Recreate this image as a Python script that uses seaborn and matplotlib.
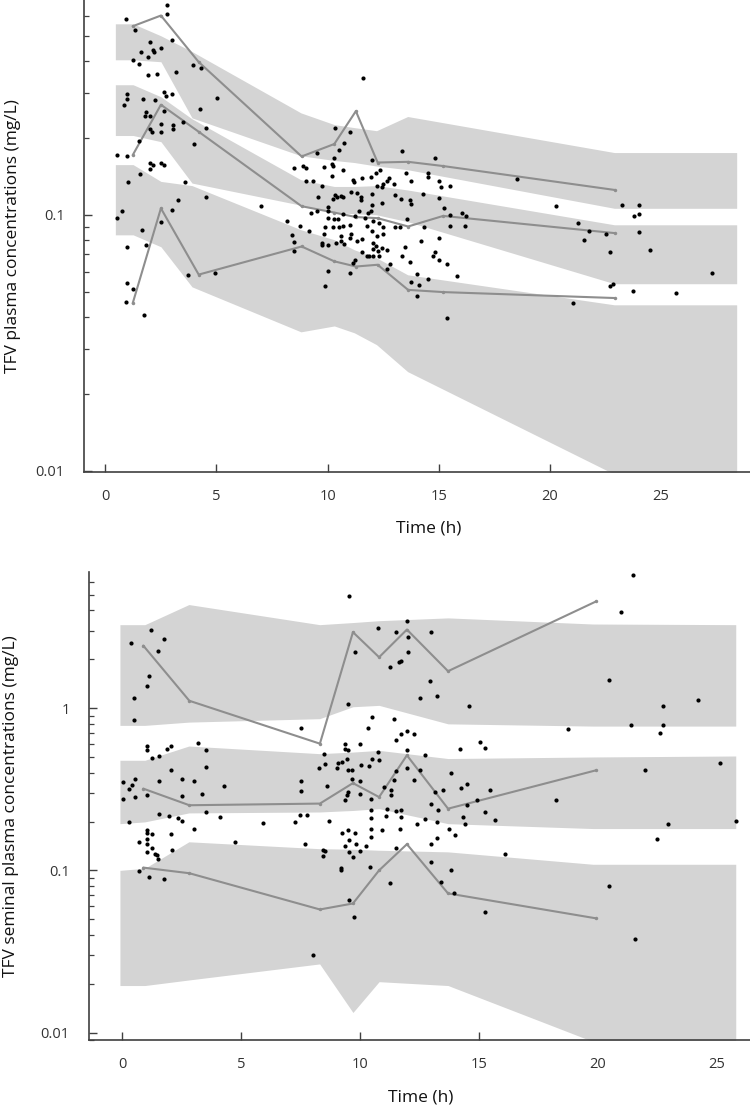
import numpy as np
import pandas as pd
import matplotlib
matplotlib.use("Agg")
import matplotlib.pyplot as plt
import seaborn as sns
from matplotlib.ticker import LogLocator, FuncFormatter, NullFormatter

# ---------------- TFV plasma (top panel) ----------------
plasma_time = [
    2.76, 2.76, 0.93, 1.34, 2.01, 3.01, 2.49, 2.16, 2.19, 1.59, 1.93, 1.26, 1.53, 3.18, 3.93, 4.30,
    1.93, 2.34, 0.99, 0.96, 0.84, 1.71, 2.23, 2.64, 2.72, 3.01, 5.01, 4.26, 2.65, 1.83, 1.79, 2.01,
    2.50, 3.03, 3.03, 2.01, 2.09, 2.50, 3.48, 4.51, 4.00, 1.52, 0.51, 0.99, 2.01, 2.16, 2.50, 2.65,
    2.01, 1.56, 1.03, 3.58, 4.51, 3.26, 3.01, 0.75, 0.51, 2.50, 1.66, 0.99, 1.82, 3.73, 4.93, 0.99,
    1.26, 0.93, 1.75, 8.50, 7.00, 8.16, 8.41, 8.50, 8.50,
    10.33, 11.0, 10.75, 10.51, 9.51, 10.28, 10.18, 10.25, 8.90, 9.02, 9.85, 10.70, 11.98, 12.35,
    12.17, 13.33, 14.84, 13.51, 14.52, 14.52, 11.93, 11.53, 11.15, 11.18, 12.76, 12.65, 13.75,
    14.99, 12.50, 12.99, 12.44, 12.23, 9.76, 9.02, 9.35, 15.09, 15.51, 10.21, 11.03, 11.30, 11.98,
    13.03, 13.28, 13.70, 14.27, 14.99, 11.50, 11.50, 10.33, 10.25, 10.43, 10.58, 10.70, 9.55,
    12.46, 11.99, 13.75, 15.24, 11.41, 10.0, 10.03, 9.24, 9.51, 11.93, 10.70, 11.23, 11.68, 11.83,
    12.31, 12.05, 13.58, 15.5, 16.05, 16.22, 15.5, 16.19, 10.03, 10.28, 10.48, 8.75, 9.17, 9.88,
    10.25, 10.52, 10.70, 11.0, 11.03, 11.75, 11.99, 12.50, 12.50, 13.03, 13.25, 14.33, 9.85, 10.60,
    11.0, 11.33, 11.53, 12.20, 9.76, 9.76, 10.03, 10.36, 10.58, 10.73, 12.02, 12.17, 15.0, 14.18,
    13.49, 12.46, 12.02, 12.28, 12.68, 11.53, 14.84, 14.75, 11.87, 12.05, 12.31, 11.78, 11.23,
    11.15, 12.80, 15.35, 15.02, 13.70, 13.34, 12.65, 11.0, 10.03, 14.0, 14.52, 15.83, 13.75,
    14.09, 9.88, 14.0, 15.35,
    11.57, 18.53, 20.27, 21.27, 21.54, 21.76, 22.51, 22.69, 23.25, 24.01, 23.76, 24.01, 24.01,
    24.52, 27.29, 21.02, 22.69, 22.84, 23.74, 25.69,
]
plasma_conc = [
    0.657, 0.609, 0.581, 0.528, 0.471, 0.480, 0.448, 0.441, 0.431, 0.431, 0.413, 0.401, 0.389,
    0.361, 0.383, 0.376, 0.351, 0.356, 0.297, 0.283, 0.268, 0.284, 0.281, 0.301, 0.292, 0.295,
    0.286, 0.259, 0.255, 0.252, 0.244, 0.244, 0.226, 0.225, 0.217, 0.217, 0.210, 0.210, 0.230,
    0.219, 0.189, 0.195, 0.171, 0.169, 0.160, 0.157, 0.159, 0.157, 0.151, 0.144, 0.134, 0.134,
    0.117, 0.114, 0.104, 0.103, 0.097, 0.0936, 0.0874, 0.0748, 0.0759, 0.058, 0.0595, 0.0541,
    0.0514, 0.0458, 0.0405, 0.152, 0.108, 0.0942, 0.0835, 0.078, 0.0723,
    0.218, 0.211, 0.190, 0.179, 0.174, 0.166, 0.158, 0.155, 0.155, 0.152, 0.153, 0.149, 0.163,
    0.149, 0.145, 0.178, 0.166, 0.146, 0.146, 0.140, 0.140, 0.139, 0.137, 0.134, 0.139, 0.136,
    0.136, 0.136, 0.132, 0.132, 0.128, 0.129, 0.130, 0.135, 0.135, 0.128, 0.129, 0.142, 0.123,
    0.122, 0.121, 0.119, 0.115, 0.114, 0.121, 0.116, 0.117, 0.114, 0.120, 0.115, 0.117, 0.118,
    0.117, 0.117, 0.111, 0.109, 0.110, 0.106, 0.103, 0.107, 0.103, 0.102, 0.103, 0.103, 0.101,
    0.0985, 0.0971, 0.102, 0.0929, 0.0948, 0.0962, 0.0994, 0.102, 0.0985, 0.0906, 0.0906, 0.0971,
    0.0965, 0.0962, 0.0906, 0.0866, 0.0892, 0.0892, 0.0900, 0.0906, 0.0914, 0.0843, 0.0906,
    0.0861, 0.0900, 0.0843, 0.0895, 0.0895, 0.0900, 0.0841, 0.0823, 0.0811, 0.0787, 0.0804,
    0.0823, 0.0779, 0.0763, 0.0763, 0.0779, 0.0787, 0.0771, 0.0775, 0.0757, 0.0815, 0.0791,
    0.0751, 0.0741, 0.0734, 0.0723, 0.0726, 0.0713, 0.0715, 0.0692, 0.0688, 0.0688, 0.0692,
    0.0693, 0.0663, 0.0651, 0.0644, 0.0644, 0.0667, 0.0653, 0.0692, 0.0615, 0.0591, 0.0605,
    0.0588, 0.0562, 0.0579, 0.0546, 0.0533, 0.0525, 0.0483, 0.0395,
    0.343, 0.138, 0.108, 0.0928, 0.0798, 0.0861, 0.0843, 0.0715, 0.109, 0.109, 0.0985, 0.101,
    0.0853, 0.0730, 0.0591, 0.0454, 0.0528, 0.0537, 0.0505, 0.0497,
]

# prediction intervals (simulated percentiles) for the plasma panel
plasma_band_time = [0.45, 1.25, 2.5, 3.9, 8.8, 10.3, 11.2, 12.2, 13.6, 22.9, 28.4]
plasma_p95_hi = [0.557, 0.557, 0.500, 0.434, 0.250, 0.225, 0.219, 0.213, 0.242, 0.175, 0.175]
plasma_p95_lo = [0.403, 0.403, 0.396, 0.239, 0.170, 0.163, 0.160, 0.155, 0.150, 0.106, 0.106]
plasma_p50_hi = [0.322, 0.322, 0.289, 0.237, 0.137, 0.129, 0.129, 0.130, 0.125, 0.0914, 0.0914]
plasma_p50_lo = [0.204, 0.204, 0.193, 0.133, 0.109, 0.102, 0.101, 0.100, 0.094, 0.0538, 0.0538]
plasma_p05_hi = [0.157, 0.157, 0.135, 0.130, 0.0874, 0.0799, 0.0730, 0.0679, 0.0583, 0.0445, 0.0445]
plasma_p05_lo = [0.0835, 0.0835, 0.075, 0.0523, 0.0349, 0.0368, 0.0346, 0.0311, 0.0244, 0.0097, 0.005]

# observed percentiles
plasma_obs_time = [1.23, 2.5, 4.2, 8.83, 10.3, 11.27, 12.25, 13.62, 15.2, 22.92]
plasma_obs_p95 = [0.545, 0.60, 0.395, 0.169, 0.189, 0.254, 0.160, 0.161, 0.155, 0.125]
plasma_obs_p50 = [0.171, 0.269, 0.211, 0.108, 0.102, 0.098, 0.097, 0.090, 0.099, 0.0848]
plasma_obs_p05 = [0.0451, 0.106, 0.0584, 0.0752, 0.0658, 0.0628, 0.0638, 0.0509, 0.0499, 0.0473]

# ---------------- TFV seminal plasma (bottom panel) ----------------
seminal_time = [
    9.53, 1.19, 0.35, 1.76, 1.51, 1.12, 1.03, 0.50, 0.50, 9.79, 9.51, 10.76, 10.50, 10.35, 7.50,
    1.03, 1.03, 1.26, 1.54, 1.87, 2.05, 3.19, 3.52, 2.03, 3.52, 2.50, 3.03, 1.54, 0.53, 0.02, 0.28,
    0.42, 0.02, 0.53, 1.03, 2.50, 3.34, 4.27, 7.50, 7.50, 8.61, 9.36, 9.36, 9.50, 9.99, 8.49, 8.28,
    8.52, 9.02, 9.08, 9.26, 9.43, 9.50, 9.68, 10.06, 10.37, 10.50, 10.76, 9.66, 9.99, 9.51, 9.43,
    9.36, 9.99, 10.48, 10.48, 1.55, 1.96, 2.35, 2.50, 3.52, 4.10, 0.28, 2.03, 1.03, 1.03, 1.26,
    1.03, 1.24, 0.71, 1.03, 1.37, 1.51, 2.10, 3.03, 4.76, 5.90, 7.26, 7.47, 7.77, 7.68, 8.70, 9.23,
    9.51, 9.78, 9.54, 9.82, 9.36, 9.54, 9.71, 9.99, 10.27, 10.44, 10.44, 10.44, 8.45, 8.42, 9.18,
    10.41,
    1.03, 1.45, 0.71, 1.12, 1.76, 8.52, 9.20, 9.54, 9.75, 8.0,
    11.25, 11.5, 13.0, 13.0, 13.84, 13.42, 13.94, 15.24, 16.08, 20.49, 21.58,
    21.47, 20.98, 11.5, 11.99, 12.02, 13.0, 12.02, 11.74, 11.64, 11.25, 12.93, 12.51, 13.25, 14.58,
    20.46, 22.73, 24.2, 22.73, 21.4, 22.63, 18.74, 11.42, 11.74, 11.99, 12.26, 11.5, 10.79, 11.99,
    12.75, 14.19, 15.03, 15.24, 25.14, 21.99, 11.53, 11.43, 11.99, 12.26, 12.51, 13.84, 11.0,
    11.32, 11.32, 13.17, 13.49, 14.26, 14.51, 15.48, 14.92, 18.25, 13.0, 13.28, 14.51, 15.27,
    11.15, 11.53, 11.74, 11.74, 11.11, 12.75, 12.41, 13.25, 14.33, 14.43, 13.73, 14.0, 15.66,
    11.7, 13.25, 22.94, 25.81, 22.5, 10.92,
]
seminal_conc = [
    4.89, 3.05, 2.51, 2.67, 2.26, 1.57, 1.37, 1.15, 0.848, 2.23, 1.06, 3.12, 0.881, 0.750, 0.750,
    0.581, 0.549, 0.495, 0.507, 0.562, 0.584, 0.609, 0.555, 0.414, 0.434, 0.364, 0.357, 0.356,
    0.364, 0.351, 0.319, 0.334, 0.274, 0.283, 0.293, 0.286, 0.294, 0.331, 0.356, 0.308, 0.331,
    0.604, 0.562, 0.549, 0.598, 0.524, 0.430, 0.455, 0.428, 0.459, 0.465, 0.489, 0.414, 0.418,
    0.444, 0.440, 0.489, 0.536, 0.368, 0.354, 0.304, 0.290, 0.270, 0.294, 0.277, 0.234, 0.222,
    0.216, 0.209, 0.202, 0.229, 0.213, 0.198, 0.167, 0.177, 0.169, 0.167, 0.155, 0.138, 0.149,
    0.145, 0.126, 0.118, 0.133, 0.179, 0.150, 0.196, 0.199, 0.219, 0.219, 0.145, 0.202, 0.169,
    0.177, 0.169, 0.153, 0.146, 0.141, 0.130, 0.121, 0.131, 0.141, 0.161, 0.181, 0.209, 0.133,
    0.122, 0.104, 0.105,
    0.130, 0.124, 0.0989, 0.0904, 0.0883, 0.132, 0.100, 0.0656, 0.0518, 0.0301,
    0.083, 0.138, 0.145, 0.113, 0.101, 0.0843, 0.0727, 0.0551, 0.126, 0.080, 0.0379,
    6.62, 3.90, 2.94, 3.43, 2.76, 2.94, 2.21, 1.95, 1.93, 1.79, 1.47, 1.16, 1.18, 1.03, 1.50, 1.03,
    1.13, 0.783, 0.783, 0.702, 0.747, 0.861, 0.696, 0.722, 0.696, 0.639, 0.481, 0.549, 0.512,
    0.562, 0.618, 0.571, 0.459, 0.414, 0.409, 0.362, 0.430, 0.359, 0.418, 0.398, 0.327, 0.312,
    0.290, 0.304, 0.312, 0.322, 0.343, 0.315, 0.273, 0.272, 0.258, 0.237, 0.252, 0.229, 0.240,
    0.232, 0.237, 0.213, 0.216, 0.206, 0.194, 0.199, 0.213, 0.194, 0.179, 0.166, 0.204, 0.179,
    0.158, 0.194, 0.201, 0.155, 0.177,
]

seminal_band_time = [-0.1, 0.95, 2.8, 8.3, 9.7, 10.8, 13.7, 19.8, 25.8]
seminal_p95_hi = [3.27, 3.27, 4.35, 3.27, 3.37, 3.46, 3.60, 3.30, 3.27]
seminal_p95_lo = [0.783, 0.783, 0.82, 0.861, 1.02, 1.04, 0.80, 0.775, 0.775]
seminal_p50_hi = [0.477, 0.477, 0.584, 0.524, 0.536, 0.549, 0.489, 0.50, 0.507]
seminal_p50_lo = [0.194, 0.199, 0.226, 0.229, 0.234, 0.240, 0.194, 0.181, 0.181]
seminal_p05_hi = [0.100, 0.103, 0.150, 0.136, 0.135, 0.133, 0.130, 0.109, 0.109]
seminal_p05_lo = [0.0195, 0.0195, 0.0211, 0.0265, 0.0133, 0.0206, 0.0195, 0.0088, 0.004]

seminal_obs_time = [0.88, 2.82, 8.31, 9.7, 10.8, 11.97, 13.7, 19.93]
seminal_obs_p95 = [2.43, 1.11, 0.604, 2.94, 2.06, 3.05, 1.69, 4.55]
seminal_obs_p50 = [0.319, 0.252, 0.258, 0.345, 0.283, 0.512, 0.240, 0.414]
seminal_obs_p05 = [0.104, 0.096, 0.0574, 0.0625, 0.100, 0.145, 0.0721, 0.0506]

BAND_COLOR = "#d4d4d4"
LINE_COLOR = "#8e8e8e"
AXIS_COLOR = "#404040"

sns.set_style("ticks")
plt.rcParams["font.family"] = ["Open Sans", "DejaVu Sans"]


def draw_panel(ax, band_time, bands, obs_time, obs_lines, pt_time, pt_conc, ylabel):
    for lo, hi in bands:
        ax.fill_between(band_time, lo, hi, color=BAND_COLOR, linewidth=0, zorder=1)

    for values in obs_lines:
        sns.lineplot(x=obs_time, y=values, sort=False, estimator=None, ax=ax,
                     color=LINE_COLOR, linewidth=1.5, marker="o", markersize=2.5,
                     markeredgewidth=0, zorder=2)

    pts = pd.DataFrame({"time": pt_time, "conc": pt_conc})
    sns.scatterplot(data=pts, x="time", y="conc", ax=ax, color="black", s=9,
                    marker="o", linewidth=0, zorder=3)

    ax.set_yscale("log")
    ax.set_axisbelow(True)
    ax.yaxis.set_major_locator(LogLocator(base=10))
    ax.yaxis.set_minor_locator(LogLocator(base=10, subs=np.arange(2, 10)))
    ax.yaxis.set_major_formatter(FuncFormatter(lambda v, _: f"{v:g}"))
    ax.yaxis.set_minor_formatter(NullFormatter())
    ax.set_xticks([0, 5, 10, 15, 20, 25])

    sns.despine(ax=ax)
    for side in ("left", "bottom"):
        ax.spines[side].set_color(AXIS_COLOR)
        ax.spines[side].set_linewidth(1.2)
    ax.tick_params(axis="both", which="major", direction="in", length=6, width=1,
                   color=AXIS_COLOR, labelsize=10.5, labelcolor="#333333")
    ax.tick_params(axis="y", which="major", pad=14)
    ax.tick_params(axis="x", which="major", pad=12)
    ax.tick_params(axis="y", which="minor", direction="in", length=3.5, width=0.9,
                   color=AXIS_COLOR)
    ax.set_xlabel("Time (h)", fontsize=12.5, color="#111111")
    ax.set_ylabel(ylabel, fontsize=12.5, color="#111111")


fig = plt.figure(figsize=(7.5, 11.11), dpi=100)
ax1 = fig.add_axes([0.112, 0.5752, 0.888, 0.4248])
ax2 = fig.add_axes([0.1187, 0.0639, 0.8813, 0.4212])

draw_panel(
    ax1, plasma_band_time,
    [(plasma_p95_lo, plasma_p95_hi), (plasma_p50_lo, plasma_p50_hi), (plasma_p05_lo, plasma_p05_hi)],
    plasma_obs_time, [plasma_obs_p95, plasma_obs_p50, plasma_obs_p05],
    plasma_time, plasma_conc, "TFV plasma concentrations (mg/L)",
)
ax1.set_xlim(-0.96, 29.0)
ax1.set_ylim(0.0099, 0.69)
ax1.xaxis.set_label_coords(0.517, -0.102)
ax1.yaxis.set_label_coords(-0.095, 0.5)

draw_panel(
    ax2, seminal_band_time,
    [(seminal_p95_lo, seminal_p95_hi), (seminal_p50_lo, seminal_p50_hi), (seminal_p05_lo, seminal_p05_hi)],
    seminal_obs_time, [seminal_obs_p95, seminal_obs_p50, seminal_obs_p05],
    seminal_time, seminal_conc, "TFV seminal plasma concentrations (mg/L)",
)
ax2.set_xlim(-1.40, 26.4)
ax2.set_ylim(0.009, 6.9)
ax2.xaxis.set_label_coords(0.502, -0.105)
ax2.yaxis.set_label_coords(-0.106, 0.5)

fig.savefig("out.png", dpi=100)
plt.close(fig)
